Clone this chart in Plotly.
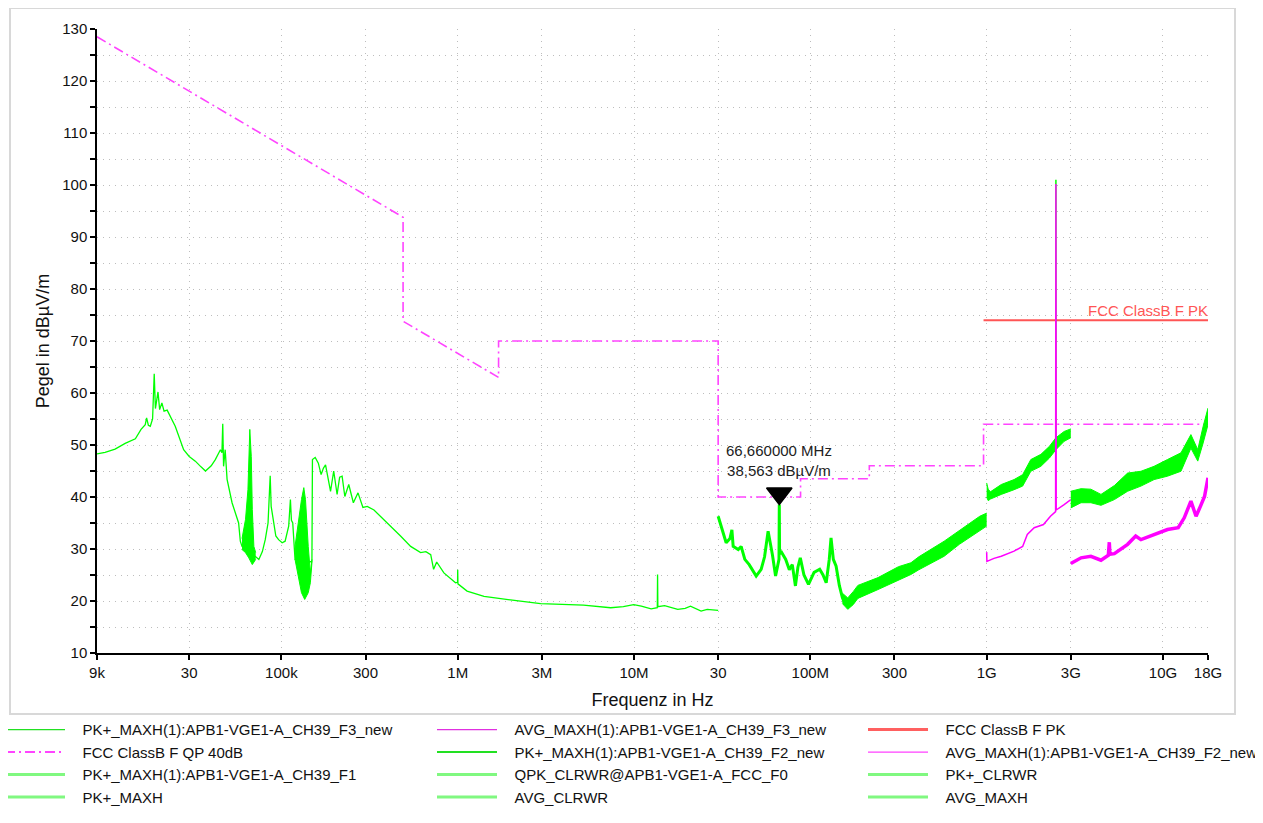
import math
import plotly.graph_objects as go

# ---------------- data ----------------
# FCC ClassB F QP 40dB limit line
qp_freq = [9e3, 490e3, 490e3, 1.705e6, 1.705e6, 30e6, 30e6, 88e6, 88e6, 216e6, 216e6, 960e6, 960e6, 18e9]
qp_level = [128.5, 93.8, 73.8, 63.0, 70.0, 70.0, 40.0, 40.0, 43.5, 43.5, 46.0, 46.0, 54.0, 54.0]

# FCC ClassB F PK limit line
pk_lim_freq = [960e6, 18e9]
pk_lim_level = [74.0, 74.0]

# PK trace 9 kHz - 30 MHz
lf_freq = [9.0e3, 10.0e3, 11.4e3, 13.0e3, 14.85e3, 16.0e3, 16.9e3, 17.2e3, 17.6e3, 18.05e3, 18.6e3,
           19.0e3, 19.3e3, 19.96e3, 20.4e3, 21.0e3, 21.6e3, 22.5e3, 25.0e3, 27.9e3, 30.0e3, 32.5e3,
           35.0e3, 37.1e3, 40.0e3, 42.2e3, 45.1e3, 46.0e3, 46.5e3, 47.0e3, 48.0e3, 49.2e3, 52.5e3,
           55.0e3, 57.2e3, 58.5e3, 59.8e3, 71.5e3, 74.5e3, 78.0e3, 81.0e3, 84.0e3, 86.4e3, 87.5e3,
           90.0e3, 93.0e3, 96.4e3, 101e3, 105e3, 110e3, 112.5e3, 114e3, 116e3, 119.5e3, 149e3,
           150e3, 155.5e3, 162e3, 168e3, 173e3, 178e3, 184e3, 190e3, 198e3, 207e3, 214e3, 221e3,
           229e3, 241e3, 256e3, 272e3, 290e3, 307e3, 335e3, 365e3, 414e3, 474e3, 541e3, 616e3,
           660e3, 703e3, 730e3, 760e3, 835e3, 972e3, 998e3, 1.0e6, 1.003e6, 1.13e6, 1.41e6, 1.99e6,
           2.95e6, 5.17e6, 7.37e6, 8.7e6, 9.95e6, 11.0e6, 12.5e6, 13.55e6, 13.6e6, 13.65e6, 14.9e6,
           17.7e6, 19.5e6, 20.9e6, 24.0e6, 26.0e6, 30.0e6]
lf_level = [48.3, 48.6, 49.2, 50.3, 51.2, 53.0, 53.9, 55.2, 53.8, 53.6, 55.0,
            63.7, 57.0, 60.2, 56.8, 58.1, 56.5, 56.7, 53.6, 49.1, 47.8, 46.9,
            45.8, 45.0, 46.0, 47.2, 49.1, 48.5, 54.1, 45.9, 49.1, 43.4, 38.9,
            36.5, 35.0, 31.5, 30.5, 28.5, 28.0, 29.5, 31.8, 35.0, 44.1, 38.2,
            35.5, 32.5, 31.8, 31.2, 31.5, 34.4, 39.5, 35.5, 35.0, 28.0, 27.5,
            47.2, 47.6, 46.5, 44.3, 45.5, 46.2, 43.5, 41.1, 45.0, 40.5, 43.8, 44.0,
            40.1, 42.4, 38.9, 40.8, 38.0, 38.2, 37.5, 36.3, 34.4, 32.5, 30.5, 29.3,
            29.5, 28.9, 26.1, 27.5, 25.4, 23.5, 23.6, 26.0, 23.3, 21.9, 20.9, 20.2,
            19.5, 19.2, 18.7, 18.9, 19.3, 19.0, 18.5, 18.7, 25.1, 18.9, 19.1,
            18.4, 18.6, 19.0, 18.05, 18.4, 18.2]

# noisy bands in the LF trace (upper / lower envelopes)
bandA_up_freq = [59.8e3, 62.6e3, 64.6e3, 65.3e3, 66.2e3, 67.5e3, 68.4e3, 69.8e3, 71.5e3]
bandA_up_level = [32.0, 35.7, 41.4, 48.5, 53.0, 47.8, 37.6, 30.5, 29.3]
bandA_lo_freq = [59.8e3, 62.6e3, 65.3e3, 68.4e3, 71.5e3]
bandA_lo_level = [29.9, 29.3, 28.3, 27.0, 28.0]
bandB_up_freq = [119.5e3, 125.6e3, 130e3, 134e3, 137e3, 142e3, 146e3, 149e3]
bandB_up_level = [30.5, 36.3, 39.5, 41.8, 39.5, 30.5, 25.4, 28.0]
bandB_lo_freq = [119.5e3, 125.6e3, 130e3, 135.6e3, 142e3, 146e3, 149e3]
bandB_lo_level = [28.0, 24.1, 21.6, 20.3, 21.6, 23.5, 27.35]

# PK trace 30 MHz - 163 MHz
hf_freq = [30.0e6, 31.5e6, 33.3e6, 35.0e6, 35.9e6, 36.5e6, 39.0e6, 40.5e6, 42.5e6, 45.0e6, 49.3e6,
           52.6e6, 55.0e6, 57.6e6, 59.0e6, 61.0e6, 63.5e6, 66.4e6, 66.66e6, 66.9e6, 68.0e6, 72.5e6,
           76.0e6, 79.0e6, 82.3e6, 85.0e6, 87.7e6, 92.0e6, 97.6e6, 105e6, 113e6, 118e6, 123e6,
           128e6, 131e6, 135e6, 140e6, 146e6, 152e6, 157e6, 163e6]
hf_level = [36.3, 34.0, 31.2, 32.0, 33.7, 30.5, 29.9, 30.5, 28.0, 27.0, 24.8,
            26.1, 28.5, 33.4, 31.5, 28.8, 24.8, 28.0, 38.563, 29.0, 29.6, 28.0,
            26.0, 27.0, 22.9, 26.5, 28.3, 25.0, 23.2, 25.5, 26.1, 25.0, 23.5,
            28.0, 32.15, 28.0, 26.7, 23.0, 20.6, 19.5, 19.4]

# PK band 150 MHz - 1 GHz
vhf_up_freq = [152e6, 163e6, 175e6, 186e6, 242e6, 316e6, 372e6, 412e6, 574e6, 700e6, 914e6, 1.0e9]
vhf_up_level = [21.5, 20.6, 21.8, 23.0, 24.5, 26.6, 27.35, 28.5, 31.5, 33.6, 36.3, 36.9]
vhf_lo_freq = [152e6, 163e6, 175e6, 186e6, 242e6, 316e6, 372e6, 412e6, 574e6, 700e6, 914e6, 1.0e9]
vhf_lo_level = [19.5, 18.4, 19.3, 20.5, 22.2, 24.0, 25.1, 26.0, 28.6, 30.9, 33.4, 34.4]

# PK+_MAXH F3_new band 1 - 3 GHz
f3_up_freq = [1.0e9, 1.02e9, 1.05e9, 1.21e9, 1.43e9, 1.6e9, 1.78e9, 2.03e9, 2.27e9, 2.47e9, 2.75e9, 3.0e9]
f3_up_level = [42.7, 41.5, 41.0, 42.4, 43.35, 44.3, 47.2, 48.2, 49.75, 51.4, 52.6, 53.1]
f3_lo_freq = [1.0e9, 1.02e9, 1.05e9, 1.21e9, 1.43e9, 1.6e9, 1.78e9, 2.03e9, 2.27e9, 2.47e9, 2.75e9, 3.0e9]
f3_lo_level = [40.0, 39.3, 39.6, 40.5, 41.4, 42.1, 44.95, 45.9, 47.5, 49.1, 50.7, 51.4]
spike_freq = [2.47e9, 2.47e9]
spike_pk_level = [51.0, 101.0]

# AVG_MAXH F3_new 1 - 3 GHz
avg3_freq = [1.0e9, 1.003e9, 1.1e9, 1.21e9, 1.43e9, 1.6e9, 1.70e9, 1.86e9, 2.1e9, 2.3e9, 2.46e9,
             2.47e9, 2.48e9, 2.75e9, 3.0e9]
avg3_level = [29.4, 27.6, 28.2, 28.6, 29.6, 30.5, 32.8, 34.1, 34.7, 36.3, 37.2,
              100.2, 37.5, 38.55, 39.5]

# PK+_MAXH F2_new band 3 - 18 GHz
f2_up_freq = [3.0e9, 3.43e9, 3.9e9, 4.45e9, 5.3e9, 6.3e9, 7.5e9, 8.9e9, 10.6e9, 12.65e9, 14.4e9, 15.75e9, 16.9e9, 18.0e9]
f2_up_level = [41.1, 41.6, 41.5, 40.5, 42.2, 44.6, 44.95, 45.9, 47.2, 48.5, 52.0, 49.1, 53.6, 57.1]
f2_lo_freq = [3.0e9, 3.43e9, 3.9e9, 4.45e9, 5.3e9, 6.3e9, 7.5e9, 8.9e9, 10.6e9, 12.65e9, 14.4e9, 15.75e9, 16.9e9, 18.0e9]
f2_lo_level = [37.9, 38.9, 38.9, 38.4, 39.5, 41.1, 42.1, 43.35, 44.0, 44.95, 49.4, 46.9, 50.4, 53.9]

# AVG_MAXH F2_new 3 - 18 GHz
avg2_freq = [3.0e9, 3.43e9, 3.9e9, 4.45e9, 4.9e9, 4.96e9, 5.0e9, 5.3e9, 6.3e9, 7.0e9, 7.5e9, 8.9e9,
             10.6e9, 12.2e9, 13.2e9, 14.4e9, 15.4e9, 16.3e9, 17.2e9, 18.0e9]
avg2_level = [27.2, 28.3, 28.6, 27.85, 28.8, 31.3, 29.0, 29.1, 30.9, 32.5, 31.8, 32.8,
              33.75, 34.1, 36.0, 39.2, 36.3, 38.2, 40.1, 43.7]

# marker
marker_freq = 66.66e6
marker_level = 38.563
marker_text = "66,660000 MHz<br>38,563 dB\u00b5V/m"

# axis ticks
x_tickvals = [9e3, 30e3, 100e3, 300e3, 1e6, 3e6, 10e6, 30e6, 100e6, 300e6, 1e9, 3e9, 10e9, 18e9]
x_ticktext = ["9k", "30", "100k", "300", "1M", "3M", "10M", "30", "100M", "300", "1G", "3G", "10G", "18G"]

# legend entries: (name, colour, width, dash, legend column)
legend_entries = [
    ("PK+_MAXH(1):APB1-VGE1-A_CH39_F3_new", "#22e022", 1.2, "solid", "legend"),
    ("FCC ClassB F QP 40dB", "#ff44ff", 2, "10px,4px,2px,4px", "legend"),
    ("PK+_MAXH(1):APB1-VGE1-A_CH39_F1", "#80f880", 3, "solid", "legend"),
    ("PK+_MAXH", "#80f880", 3, "solid", "legend"),
    ("AVG_MAXH(1):APB1-VGE1-A_CH39_F3_new", "#e030e0", 1.2, "solid", "legend2"),
    ("PK+_MAXH(1):APB1-VGE1-A_CH39_F2_new", "#22e022", 2, "solid", "legend2"),
    ("QPK_CLRWR@APB1-VGE1-A_FCC_F0", "#80f880", 3, "solid", "legend2"),
    ("AVG_CLRWR", "#80f880", 3, "solid", "legend2"),
    ("FCC ClassB F PK", "#ff6060", 3, "solid", "legend3"),
    ("AVG_MAXH(1):APB1-VGE1-A_CH39_F2_new", "#ff40ff", 1.2, "solid", "legend3"),
    ("PK+_CLRWR", "#80f880", 3, "solid", "legend3"),
    ("AVG_MAXH", "#80f880", 3, "solid", "legend3"),
]

# ---------------- figure ----------------
LIME = "#00ff00"
MAG = "#ff00ff"
QPC = "#ff44ff"
RED = "#ff5555"

PLOT_H = 624.0                  # plot area height in px
DB_PER_PX = 120.0 / PLOT_H      # y-scale (10..130 dB)

fig = go.Figure()


def band(fu, lu, fl, ll, color):
    fig.add_trace(go.Scatter(x=fl, y=ll, mode="lines", line=dict(color=color, width=1),
                             showlegend=False, hoverinfo="skip"))
    fig.add_trace(go.Scatter(x=fu, y=lu, mode="lines", line=dict(color=color, width=1),
                             fill="tonexty", fillcolor=color, showlegend=False, hoverinfo="skip"))


# limits
fig.add_trace(go.Scatter(x=pk_lim_freq, y=pk_lim_level, mode="lines",
                         line=dict(color=RED, width=2), showlegend=False))
fig.add_trace(go.Scatter(x=qp_freq, y=qp_level, mode="lines",
                         line=dict(color=QPC, width=1.6, dash="10px,4px,2px,4px"), showlegend=False))

# LF
fig.add_trace(go.Scatter(x=lf_freq, y=lf_level, mode="lines", line=dict(color=LIME, width=1.3),
                         showlegend=False))
band(bandA_up_freq, bandA_up_level, bandA_lo_freq, bandA_lo_level, LIME)
band(bandB_up_freq, bandB_up_level, bandB_lo_freq, bandB_lo_level, LIME)

# 30M - 1G
fig.add_trace(go.Scatter(x=hf_freq, y=hf_level, mode="lines", line=dict(color=LIME, width=3),
                         showlegend=False))
band(vhf_up_freq, vhf_up_level, vhf_lo_freq, vhf_lo_level, LIME)

# 1G - 3G
band(f3_up_freq, f3_up_level, f3_lo_freq, f3_lo_level, LIME)
fig.add_trace(go.Scatter(x=spike_freq, y=spike_pk_level, mode="lines", line=dict(color=LIME, width=1.5),
                         showlegend=False))
fig.add_trace(go.Scatter(x=avg3_freq, y=avg3_level, mode="lines", line=dict(color=MAG, width=1.5),
                         showlegend=False))

# 3G - 18G
band(f2_up_freq, f2_up_level, f2_lo_freq, f2_lo_level, LIME)
fig.add_trace(go.Scatter(x=avg2_freq, y=avg2_level, mode="lines", line=dict(color=MAG, width=3.5),
                         showlegend=False))

# marker triangle: tip (11 px below the symbol centre) sits on the marker level
MSIZE = 22
fig.add_trace(go.Scatter(x=[marker_freq], y=[marker_level + (MSIZE / 2) * DB_PER_PX], mode="markers",
                         marker=dict(symbol="triangle-down", size=MSIZE, color="black",
                                     line=dict(width=1.5, color="black")),
                         showlegend=False, hoverinfo="skip"))
fig.add_annotation(x=math.log10(marker_freq), y=marker_level, text=marker_text, showarrow=False,
                   xanchor="center", yanchor="bottom", yshift=23, align="center",
                   font=dict(family="Liberation Sans", size=15, color="#222222"))

# PK limit label
fig.add_annotation(x=math.log10(pk_lim_freq[-1]), y=pk_lim_level[-1], text="FCC ClassB F PK",
                   showarrow=False, xanchor="right", yanchor="bottom", xshift=2, yshift=-1,
                   font=dict(family="Liberation Sans", size=15, color="#ff5555"))

# legend-only traces
PAD = "\u00a0\u00a0\u00a0"
for name, col, w, dash, lg in legend_entries:
    fig.add_trace(go.Scatter(x=[None], y=[None], mode="lines", name=PAD + name,
                             line=dict(color=col, width=w, dash=dash), legend=lg, showlegend=True))

GRID = "#bdbdbd"
leg_common = dict(orientation="v", yanchor="top", y=-0.0966, bgcolor="rgba(0,0,0,0)",
                  font=dict(family="Liberation Sans", size=15, color="#111111"),
                  tracegroupgap=0, itemwidth=60, xanchor="left", traceorder="normal")

# the page places the figure 8 px from the top-left corner; margins compensate
fig.update_layout(
    width=1255, height=815,
    margin=dict(l=89, r=55, t=21, b=170, autoexpand=False),
    paper_bgcolor="white", plot_bgcolor="white",
    font=dict(family="Liberation Sans", size=15, color="#111111"),
    xaxis=dict(type="log", range=[math.log10(9e3), math.log10(18e9)],
               tickvals=x_tickvals, ticktext=x_ticktext, automargin=False,
               showline=True, linecolor="black", linewidth=1.5,
               ticks="outside", ticklen=5, tickcolor="black", tickwidth=1.5,
               showgrid=True, gridcolor=GRID, griddash="1px,5px", gridwidth=1,
               zeroline=False, title=dict(text="Frequenz in Hz", standoff=14),
               tickfont=dict(size=15)),
    yaxis=dict(range=[10, 130], tick0=10, dtick=10, automargin=False,
               showline=True, linecolor="black", linewidth=1.5,
               ticks="outside", ticklen=5, tickcolor="black", tickwidth=1.5,
               showgrid=True, gridcolor=GRID, griddash="1px,5px", gridwidth=1,
               minor=dict(dtick=5, ticks="outside", ticklen=5, tickcolor="black",
                          showgrid=True, gridcolor=GRID, griddash="1px,5px", gridwidth=1),
               zeroline=False, title=dict(text="Pegel in dB\u00b5V/m", standoff=8),
               tickfont=dict(size=15)),
    legend=dict(x=(0 - 97) / 1111, **leg_common),
    legend2=dict(x=(432 - 97) / 1111, **leg_common),
    legend3=dict(x=(863 - 97) / 1111, **leg_common),
    shapes=[dict(type="rect", xref="paper", yref="paper",
                 x0=(10 - 97) / 1111, x1=(1235 - 97) / 1111,
                 y0=(653 - 714) / 624, y1=(653 - 8) / 624,
                 line=dict(color="#d8d8d8", width=2), layer="below")],
)

fig.write_html("out.html")
